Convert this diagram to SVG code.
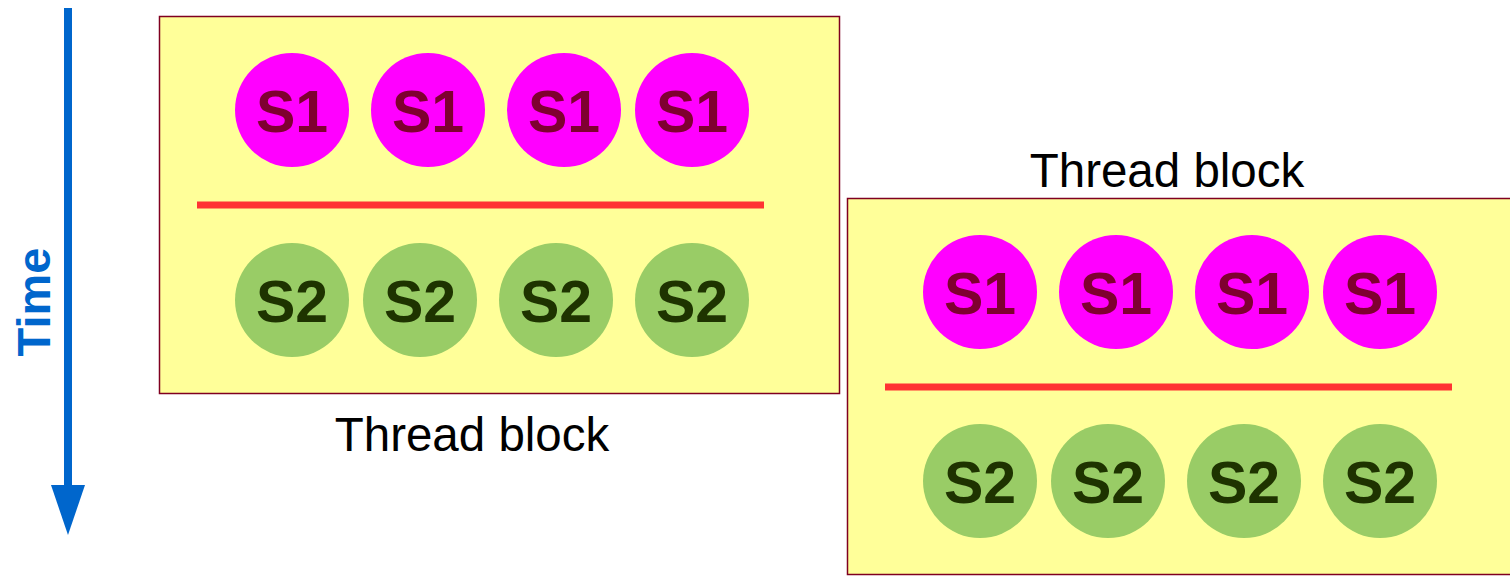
<svg xmlns="http://www.w3.org/2000/svg" width="1510" height="576" viewBox="0 0 1510 576">
<style>
.box{fill:#ffff99;stroke:#7f0020;stroke-width:1.5}
.s1{fill:#ff00ff}
.s2{fill:#99cc66}
.t1{font-family:"Liberation Sans",Arial,sans-serif;font-weight:bold;font-size:59px;fill:#7f0030;text-anchor:middle}
.t2{font-family:"Liberation Sans",Arial,sans-serif;font-weight:bold;font-size:59px;fill:#1e3300;text-anchor:middle}
.lbl{font-family:"Liberation Sans",Arial,sans-serif;font-size:47.5px;fill:#000;text-anchor:middle}
.bar{stroke:#ff3333;stroke-width:7}
</style>
<rect width="1510" height="576" fill="#fff"/>
<g id="time-axis">
<line x1="68" y1="8" x2="68" y2="488" stroke="#0066cc" stroke-width="8"/>
<polygon points="51,485 85,485 68,535" fill="#0066cc"/>
<text transform="translate(50,302) rotate(-90)" font-family="Liberation Sans,Arial,sans-serif" font-weight="bold" font-size="47" fill="#0066cc" text-anchor="middle">Time</text>
</g>
<g id="block1">
<rect class="box" x="159.5" y="16.5" width="680" height="377"/>
<line class="bar" x1="197" y1="205" x2="764" y2="205"/>
<g id="b1-s1-1"><circle class="s1" cx="292" cy="110" r="57"/><text class="t1" x="292" y="132">S1</text></g>
<g id="b1-s1-2"><circle class="s1" cx="428" cy="110" r="57"/><text class="t1" x="428" y="132">S1</text></g>
<g id="b1-s1-3"><circle class="s1" cx="564" cy="110" r="57"/><text class="t1" x="564" y="132">S1</text></g>
<g id="b1-s1-4"><circle class="s1" cx="692" cy="110" r="57"/><text class="t1" x="692" y="132">S1</text></g>
<g id="b1-s2-1"><circle class="s2" cx="292" cy="300" r="57"/><text class="t2" x="292" y="322">S2</text></g>
<g id="b1-s2-2"><circle class="s2" cx="420" cy="300" r="57"/><text class="t2" x="420" y="322">S2</text></g>
<g id="b1-s2-3"><circle class="s2" cx="556" cy="300" r="57"/><text class="t2" x="556" y="322">S2</text></g>
<g id="b1-s2-4"><circle class="s2" cx="692" cy="300" r="57"/><text class="t2" x="692" y="322">S2</text></g>
<text class="lbl" x="472" y="451">Thread block</text>
</g>
<g id="block2">
<rect class="box" x="847.5" y="198.5" width="680" height="376"/>
<line class="bar" x1="885" y1="387" x2="1452" y2="387"/>
<g id="b2-s1-1"><circle class="s1" cx="980" cy="292" r="57"/><text class="t1" x="980" y="314">S1</text></g>
<g id="b2-s1-2"><circle class="s1" cx="1116" cy="292" r="57"/><text class="t1" x="1116" y="314">S1</text></g>
<g id="b2-s1-3"><circle class="s1" cx="1252" cy="292" r="57"/><text class="t1" x="1252" y="314">S1</text></g>
<g id="b2-s1-4"><circle class="s1" cx="1380" cy="292" r="57"/><text class="t1" x="1380" y="314">S1</text></g>
<g id="b2-s2-1"><circle class="s2" cx="980" cy="481" r="57"/><text class="t2" x="980" y="503">S2</text></g>
<g id="b2-s2-2"><circle class="s2" cx="1108" cy="481" r="57"/><text class="t2" x="1108" y="503">S2</text></g>
<g id="b2-s2-3"><circle class="s2" cx="1244" cy="481" r="57"/><text class="t2" x="1244" y="503">S2</text></g>
<g id="b2-s2-4"><circle class="s2" cx="1380" cy="481" r="57"/><text class="t2" x="1380" y="503">S2</text></g>
<text class="lbl" x="1167" y="187">Thread block</text>
</g>
</svg>
